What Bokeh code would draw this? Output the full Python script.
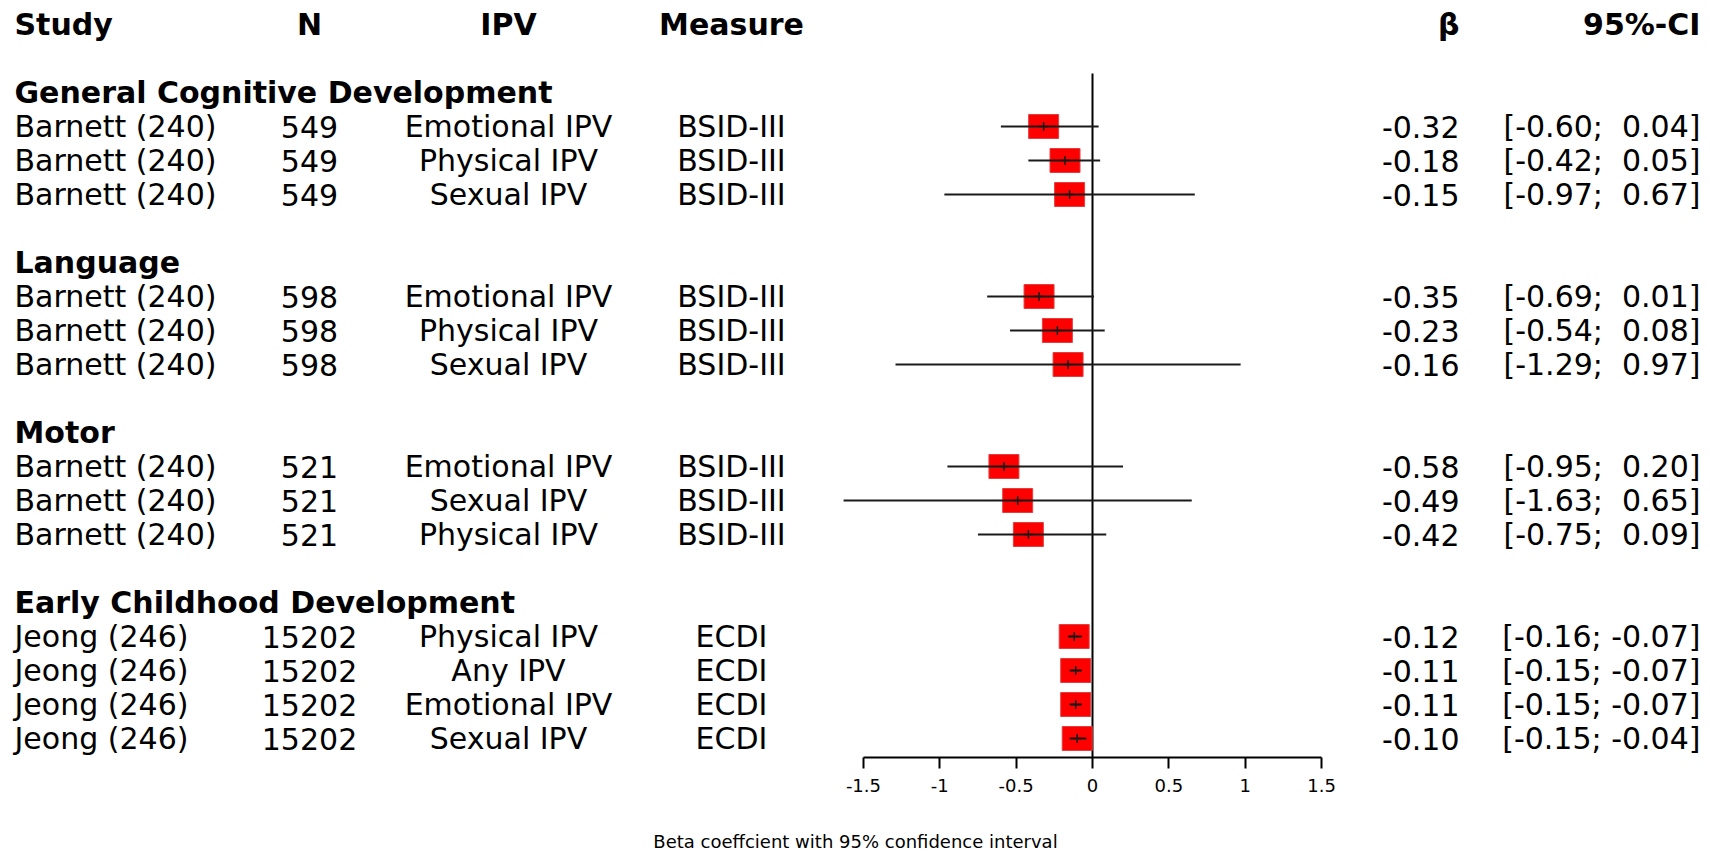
from bokeh.plotting import figure
from bokeh.models import Range1d, LinearAxis, FixedTicker, CustomJSTickFormatter, ColumnDataSource
from bokeh.core.properties import value
from bokeh.embed import file_html
from bokeh.resources import INLINE

# ---------------- data ----------------
groups = ["General Cognitive Development", "Language", "Motor", "Early Childhood Development"]
group_sizes = [3, 3, 3, 4]
study = ["Barnett (240)"] * 9 + ["Jeong (246)"] * 4
n_obs = [549, 549, 549, 598, 598, 598, 521, 521, 521, 15202, 15202, 15202, 15202]
ipv = ["Emotional IPV", "Physical IPV", "Sexual IPV",
       "Emotional IPV", "Physical IPV", "Sexual IPV",
       "Emotional IPV", "Sexual IPV", "Physical IPV",
       "Physical IPV", "Any IPV", "Emotional IPV", "Sexual IPV"]
measure = ["BSID-III"] * 9 + ["ECDI"] * 4
beta = [-0.32, -0.18, -0.15, -0.35, -0.23, -0.16, -0.58, -0.49, -0.42, -0.12, -0.11, -0.11, -0.10]
ci_lo = [-0.60, -0.42, -0.97, -0.69, -0.54, -1.29, -0.95, -1.63, -0.75, -0.16, -0.15, -0.15, -0.15]
ci_hi = [0.04, 0.05, 0.67, 0.01, 0.08, 0.97, 0.20, 0.65, 0.09, -0.07, -0.07, -0.07, -0.04]

headers = ["Study", "N", "IPV", "Measure", "\u03b2", "95%-CI"]
x_label = "Beta coeffcient with 95% confidence interval"
ticks = [-1.5, -1, -0.5, 0, 0.5, 1, 1.5]

# ---------------- layout (pixels in the page) ----------------
W, H = 1710, 860
OFF = 0
ZERO_PX = 1092.0
PX_PER_UNIT = 152.7
ROW0_PX = 24.0
ROW_PX = 34.0
AXIS_PX = 757.0
ZLINE_TOP_PX = 73.0

def dx(px):
    return (px - ZERO_PX) / PX_PER_UNIT

def dy(py):
    return (py - ROW0_PX) / ROW_PX

FONT = value("DejaVu Sans")
FS = "30px"

p = figure(width=W, height=H,
           x_range=Range1d(dx(OFF), dx(OFF + W)),
           y_range=Range1d(dy(AXIS_PX), dy(OFF)),
           x_axis_location=None, y_axis_location=None,
           toolbar_location=None, output_backend="svg",
           min_border_left=0, min_border_right=0, min_border_top=0,
           min_border_bottom=int(H - (AXIS_PX - OFF)))
p.grid.visible = False
p.outline_line_color = None
p.background_fill_color = "white"
p.border_fill_color = "white"

# row positions
rows = []
hdr_rows = []
r = 2
for g, sz in zip(groups, group_sizes):
    hdr_rows.append(r)
    r += 1
    for _ in range(sz):
        rows.append(r)
        r += 1
    r += 1

# column header row
col_x = [dx(14), dx(309), dx(508), dx(731), dx(1459), dx(1700)]
col_align = ["left", "center", "center", "center", "right", "right"]
for h, xx, al in zip(headers, col_x, col_align):
    p.text(x=[xx], y=[0], text=[h], text_font=FONT, text_font_size=FS,
           text_font_style="bold", text_align=al, text_baseline="middle",
           text_color="black")

# group headers
p.text(x=[col_x[0]] * len(groups), y=hdr_rows, text=groups, text_font=FONT,
       text_font_size=FS, text_font_style="bold", text_align="left",
       text_baseline="middle", text_color="black")

beta_txt = ["%.2f" % b for b in beta]
ci_txt = ["[%5.2f; %s]" % (lo, ("%5.2f" % hi).replace(" ", "\u00a0")) for lo, hi in zip(ci_lo, ci_hi)]
cols = [study, [str(n) for n in n_obs], ipv, measure, beta_txt, ci_txt]
for vals, xx, al in zip(cols, col_x, col_align):
    p.text(x=[xx] * len(vals), y=rows, text=vals, text_font=FONT,
           text_font_size=FS, text_align=al, text_baseline="middle",
           text_color="black")

# zero line
p.segment(x0=[0], y0=[dy(ZLINE_TOP_PX)], x1=[0], y1=[dy(AXIS_PX)],
          line_color="black", line_width=2)

src = ColumnDataSource(dict(y=rows, b=beta, lo=ci_lo, hi=ci_hi))
p.rect(x="b", y="y", width=30, height=24, width_units="screen",
       height_units="screen", fill_color="#ff0000", line_color="#e04040",
       line_width=1, source=src)
p.segment(x0="lo", y0="y", x1="hi", y1="y", line_color="#1a1a1a",
          line_width=2, source=src)
p.scatter(x="b", y="y", marker="cross", size=9, line_color="#1a1a1a",
          line_width=1.5, source=src)

# x axis
ax = LinearAxis(bounds=(-1.5, 1.5), ticker=FixedTicker(ticks=ticks, minor_ticks=[]),
                formatter=CustomJSTickFormatter(code="return tick.toString();"),
                axis_label=x_label)
ax.axis_line_width = 2
ax.axis_line_color = "black"
ax.major_tick_line_width = 2
ax.major_tick_line_color = "black"
ax.major_tick_in = 0
ax.major_tick_out = 11
ax.minor_tick_line_color = None
ax.major_label_standoff = 10
ax.major_label_text_font = "DejaVu Sans"
ax.major_label_text_font_size = "18px"
ax.major_label_text_color = "black"
ax.axis_label_text_font = "DejaVu Sans"
ax.axis_label_text_font_size = "18px"
ax.axis_label_text_font_style = "normal"
ax.axis_label_text_color = "black"
ax.axis_label_standoff = 36
p.add_layout(ax, "below")

open("out.html", "w").write(file_html(p, INLINE))
